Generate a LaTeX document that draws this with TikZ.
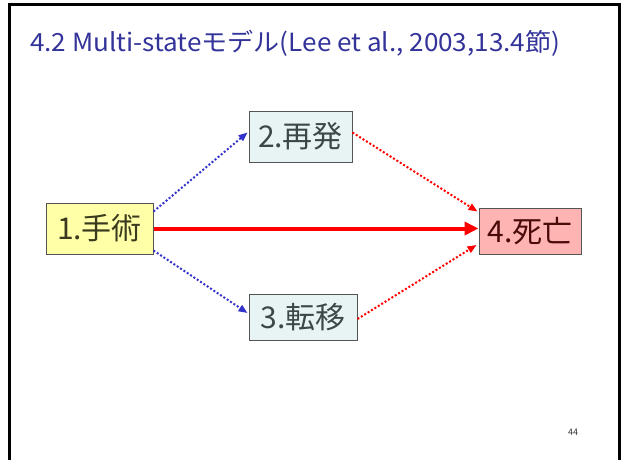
\documentclass[tikz,border=0pt]{standalone}
\usepackage{fontspec}
\setmainfont{Noto Sans CJK JP}
\usetikzlibrary{arrows.meta,calc}
\definecolor{titleblue}{HTML}{333399}
\definecolor{yfill}{HTML}{FFFFA8}
\definecolor{cfill}{HTML}{E8F4F4}
\definecolor{rfill}{HTML}{FFB4B4}
\definecolor{boxline}{HTML}{555555}
\definecolor{dblue}{HTML}{3333CC}
\definecolor{dred}{HTML}{FF0000}
\definecolor{ytext}{HTML}{3A3A1E}
\definecolor{ctext}{HTML}{3C4848}
\definecolor{rtext}{HTML}{4A0A0A}
\tikzset{
  state/.style={draw=boxline, line width=1pt, inner sep=0pt, font=\fontsize{30}{32}\selectfont, anchor=center},
  bluedot/.style={draw=dblue, line width=2pt, dotted, -{Triangle[length=9pt,width=7pt]}},
  reddot/.style={draw=dred, line width=2pt, dotted, -{Triangle[length=9pt,width=7pt]}},
  redthick/.style={draw=dred, line width=4pt, -{Triangle[length=14pt,width=13pt]}},
}
\begin{document}
\begin{tikzpicture}[x=1pt,y=-1pt]
\useasboundingbox (0,0) rectangle (626,460);
\fill[white] (0,0) rectangle (626,460);
\draw[line width=3pt] (9,462) -- (9,5) -- (619,5) -- (619,462);
\node[anchor=base west, text=titleblue, font=\fontsize{25}{27}\selectfont, inner sep=0pt] (title) at (30,52) {\resizebox{530pt}{\height}{4.2 Multi-stateモデル(Lee et al., 2003,13.4節)}};
\node[state, fill=yfill, text=ytext, minimum width=107pt, minimum height=51pt] (n1) at (99.5,228.5) {1.手術};
\node[state, fill=cfill, text=ctext, minimum width=103pt, minimum height=51pt] (n2) at (300.5,136.5) {2.再発};
\node[state, fill=cfill, text=ctext, minimum width=108pt, minimum height=46pt] (n3) at (303,317) {3.転移};
\node[state, fill=rfill, text=rtext, minimum width=102pt, minimum height=46pt] (n4) at (530,231) {4.死亡};
\draw[bluedot] ($(n1.north east)+(0,9)$) -- ($(n2.west)+(-1,-4)$);
\draw[bluedot] ($(n1.south east)+(0,-4)$) -- ($(n3.west)+(-1,-4)$);
\draw[redthick] (n1.east) -- (n1.east -| n4.west);
\draw[reddot] ($(n2.east)+(0,-4)$) -- ($(n4.north west)+(-1,4)$);
\draw[reddot] ($(n3.east)+(0,2)$) -- ($(n4.west)+(-2,14)$);
\node[font=\fontsize{9}{10}\selectfont, text=black!80] (pg) at (573,432) {44};
\end{tikzpicture}
\end{document}
